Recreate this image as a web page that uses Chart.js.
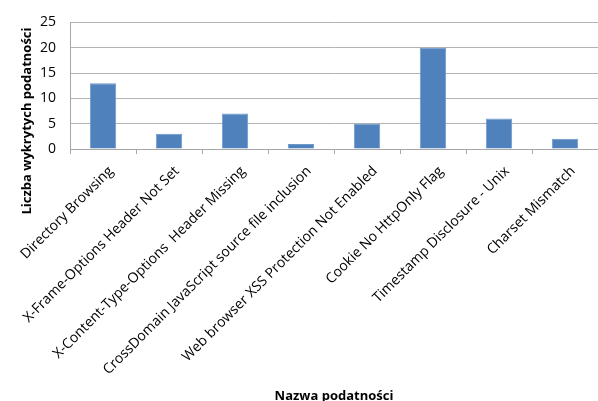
<!DOCTYPE html>
<html>
<head>
<meta charset="utf-8">
<script src="https://cdn.jsdelivr.net/npm/chart.js@4"></script>
<style>
  html, body { margin: 0; padding: 0; background: #ffffff; }
  #wrap { width: 598px; height: 401px; }
</style>
</head>
<body>
<div id="wrap"><canvas id="chart" width="598" height="401"></canvas></div>
<script>
// Vulnerability types found by the scan and how many of each were detected
const categories = [
  'Directory Browsing',
  'X-Frame-Options Header Not Set',
  'X-Content-Type-Options  Header Missing',
  'CrossDomain JavaScript source file inclusion',
  'Web browser XSS Protection Not Enabled',
  'Cookie No HttpOnly Flag',
  'Timestamp Disclosure - Unix',
  'Charset Mismatch'
];
const counts = [13, 3, 7, 1, 5, 20, 6, 2];
const yTicks = [0, 5, 10, 15, 20, 25];

const yTitle = 'Liczba wykrytych podatności';
const xTitle = 'Nazwa podatności';

const FONT = '"Open Sans", Lato, sans-serif';

// Vertical axis title, centred on the whole left margin rather than on the plot
const yTitlePlugin = {
  id: 'yTitle',
  afterDraw(chart) {
    const ctx = chart.ctx;
    ctx.save();
    ctx.translate(27, 121);
    ctx.rotate(-Math.PI / 2);
    ctx.font = 'bold 13px ' + FONT;
    ctx.fillStyle = '#000000';
    ctx.textAlign = 'center';
    ctx.textBaseline = 'middle';
    ctx.fillText(yTitle, 0, 0);
    ctx.restore();
  }
};

new Chart(document.getElementById('chart'), {
  type: 'bar',
  data: {
    labels: categories,
    datasets: [{
      data: counts,
      backgroundColor: '#4f81bd',
      borderColor: '#6d98cc',
      borderWidth: 1,
      categoryPercentage: 1,
      barPercentage: 0.4
    }]
  },
  options: {
    responsive: false,
    animation: false,
    layout: { padding: { top: 6, right: 0, left: 0, bottom: 0 } },
    plugins: {
      legend: { display: false },
      tooltip: { enabled: false }
    },
    scales: {
      x: {
        grid: {
          display: true,
          drawOnChartArea: false,
          drawTicks: true,
          tickLength: 5,
          color: '#a6a6a6'
        },
        border: { display: true, color: '#a6a6a6', width: 1 },
        ticks: {
          autoSkip: false,
          minRotation: 45,
          maxRotation: 45,
          color: '#000000',
          padding: 9,
          labelOffset: 8,
          font: { family: FONT, size: 14 }
        },
        title: {
          display: true,
          text: xTitle,
          color: '#000000',
          font: { family: FONT, size: 13, weight: 'bold' },
          padding: { top: 0, bottom: -3 }
        },
        afterFit(scale) { scale.height = 252; }
      },
      y: {
        min: 0,
        max: 25,
        afterBuildTicks(scale) {
          scale.ticks = yTicks.map(v => ({ value: v }));
        },
        grid: {
          color: '#b3b3b3',
          drawTicks: false
        },
        border: { display: true, color: '#a6a6a6', width: 1 },
        ticks: {
          color: '#000000',
          padding: 14,
          font: { family: FONT, size: 14 }
        },
        afterFit(scale) { scale.width = 70; }
      }
    }
  },
  plugins: [yTitlePlugin]
});
</script>
</body>
</html>
